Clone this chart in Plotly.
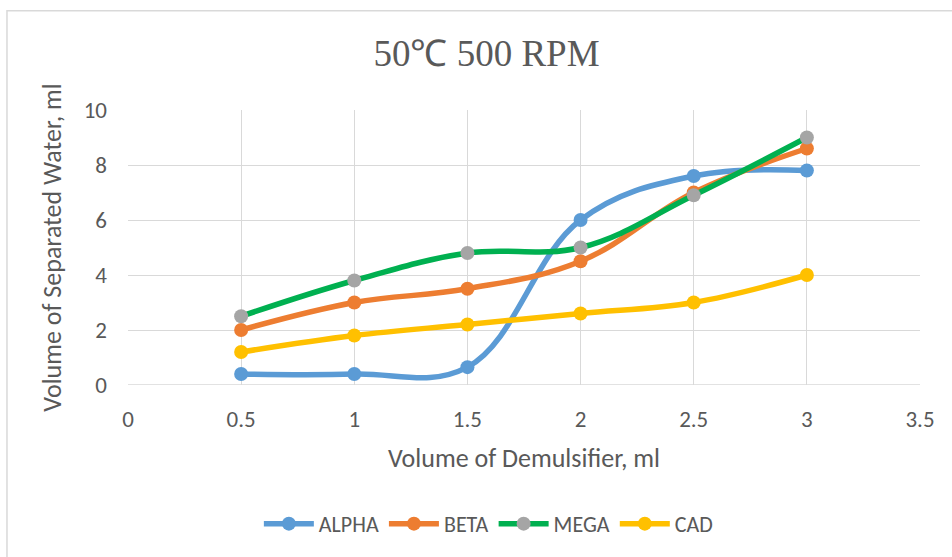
import plotly.graph_objects as go

x_vals = [0.5, 1, 1.5, 2, 2.5, 3]
alpha = [0.4, 0.4, 0.65, 6.0, 7.6, 7.8]
beta = [2.0, 3.0, 3.5, 4.5, 7.0, 8.6]
mega = [2.5, 3.8, 4.8, 5.0, 6.9, 9.0]
cad = [1.2, 1.8, 2.2, 2.6, 3.0, 4.0]

series = [
    ("ALPHA", alpha, "#5B9BD5", "#5B9BD5"),
    ("BETA", beta, "#ED7D31", "#ED7D31"),
    ("MEGA", mega, "#00B050", "#A5A5A5"),
    ("CAD", cad, "#FFC000", "#FFC000"),
]

fig = go.Figure()
for name, vals, lc, mc in series:
    fig.add_trace(go.Scatter(
        x=x_vals, y=vals, name=name, mode="lines+markers",
        line=dict(color=lc, width=5.5, shape="spline", smoothing=1.1),
        marker=dict(color=mc, size=14),
    ))

font_sans = "Carlito, Lato, 'Open Sans', sans-serif"
grid = "#D9D9D9"
txt = "#595959"

fig.update_layout(
    width=952, height=557,
    margin=dict(l=128, r=32, t=110, b=170),
    paper_bgcolor="white", plot_bgcolor="white",
    font=dict(family=font_sans, size=22, color=txt),
    title=dict(text="50℃ 500 RPM", x=0.511, xanchor="center", y=0.905, yanchor="middle",
               font=dict(family="'Liberation Serif', 'Times New Roman', serif", size=37, color=txt)),
    xaxis=dict(range=[0, 3.5], dtick=0.5, showgrid=True, gridcolor=grid, gridwidth=1,
               zeroline=False, showline=False, ticks="", tickfont=dict(size=23, color=txt),
               ticklabelstandoff=18, automargin=False,
               title=dict(text="Volume of Demulsifier, ml", font=dict(size=26, color=txt), standoff=16)),
    yaxis=dict(range=[0, 10], dtick=2, showgrid=True, gridcolor=grid, gridwidth=1,
               zeroline=False, showline=False, ticks="", tickfont=dict(size=23, color=txt),
               ticklabelstandoff=20, automargin=False,
               title=dict(text="Volume of Separated Water, ml", font=dict(size=26, color=txt), standoff=14)),
    showlegend=True,
    legend=dict(orientation="h", x=0.455, xanchor="center", y=-0.505, yanchor="middle",
                font=dict(size=22, color=txt), itemwidth=50, bgcolor="rgba(0,0,0,0)"),
    shapes=[
        dict(type="rect", xref="paper", yref="paper",
             x0=-0.1528, x1=1.3, y0=-0.8, y1=1.361,
             line=dict(color="#D9D9D9", width=1.5), fillcolor="rgba(0,0,0,0)", layer="below"),
        dict(type="line", xref="x", yref="y", x0=0, x1=3.5, y0=0, y1=0,
             line=dict(color=grid, width=1.5), layer="below"),
    ],
)

fig.write_html("out.html")
